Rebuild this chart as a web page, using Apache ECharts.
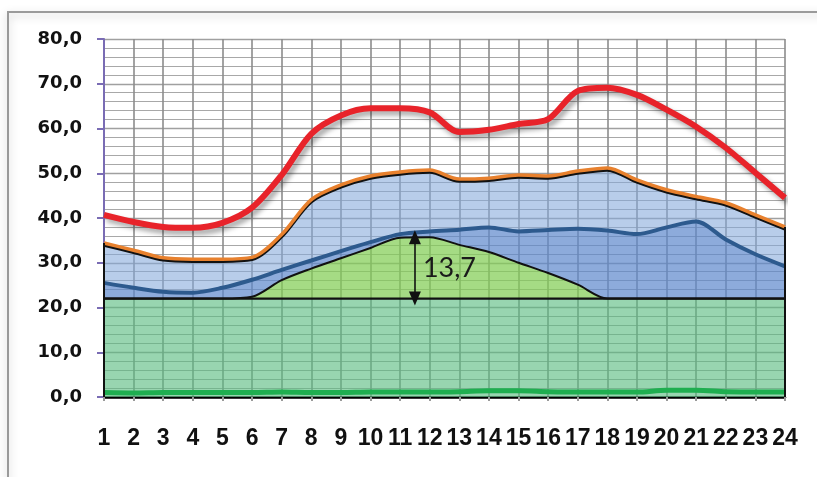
<!DOCTYPE html>
<html>
<head>
<meta charset="utf-8">
<script src="https://cdn.jsdelivr.net/npm/echarts@6/dist/echarts.min.js"></script>
<style>
  html, body { margin: 0; padding: 0; background: #ffffff; }
  #chart { width: 817px; height: 477px; }
</style>
</head>
<body>
<div id="chart"></div>
<script>
// Hours of the day
const hours = ['1', '2', '3', '4', '5', '6', '7', '8', '9', '10', '11', '12', '13', '14', '15', '16', '17', '18', '19', '20', '21', '22', '23', '24'];

// Constant base band
const baseLoad = [22, 22, 22, 22, 22, 22, 22, 22, 22, 22, 22, 22, 22, 22, 22, 22, 22, 22, 22, 22, 22, 22, 22, 22];
// Midday hump above the base band (peak 13,7)
const humpExtra = [0, 0, 0, 0, 0, 0.4, 4.1, 6.7, 9.0, 11.3, 13.6, 13.7, 12.0, 10.4, 8.0, 5.7, 3.1, 0, 0, 0, 0, 0, 0, 0];
// Upper edge of the dark-blue band
const darkBlueTop = [25.5, 24.4, 23.5, 23.3, 24.4, 26.2, 28.4, 30.5, 32.6, 34.6, 36.4, 37.0, 37.4, 37.9, 37.0, 37.3, 37.6, 37.2, 36.4, 37.9, 39.2, 35.2, 31.9, 29.2];
// Upper edge of the light-blue band (orange line)
const orangeTop = [34.4, 32.8, 31.1, 30.8, 30.8, 31.2, 36.3, 44.1, 47.4, 49.4, 50.3, 50.7, 48.7, 48.9, 49.6, 49.4, 50.5, 51.2, 48.5, 46.3, 44.8, 43.4, 40.7, 38.0];
// Red curve
const redLine = [40.7, 39.1, 38.0, 37.8, 38.9, 42.3, 49.6, 58.8, 62.9, 64.5, 64.5, 63.6, 59.2, 59.7, 61.0, 62.1, 68.4, 69.1, 67.5, 64.2, 60.4, 55.7, 50.1, 44.5];
// Green curve near zero
const greenLine = [1.0, 0.9, 1.0, 1.0, 1.0, 1.0, 1.1, 1.0, 1.0, 1.1, 1.1, 1.1, 1.2, 1.4, 1.4, 1.2, 1.1, 1.1, 1.1, 1.5, 1.5, 1.2, 1.1, 1.1];

// Annotation: hump height, drawn between hours 11 and 12
const humpHour = 11.5;
const humpHeight = 13.7;
const humpLabel = '13,7';

// y tick labels use a decimal comma
const fmt = v => v.toFixed(1).replace('.', ',');
const r2 = v => Math.round(v * 100) / 100;

// Band thicknesses for stacking
const midBand = darkBlueTop.map((v, i) => r2(v - baseLoad[i] - humpExtra[i]));
const lightBand = orangeTop.map((v, i) => r2(v - darkBlueTop[i]));

const SMOOTH = 0.3;
const firstHour = Number(hours[0]);
const lastHour = Number(hours[hours.length - 1]);

const chart = echarts.init(document.getElementById('chart'), null, { renderer: 'canvas' });

chart.setOption({
  backgroundColor: '#ffffff',
  animation: false,
  graphic: [{
    type: 'rect',
    z: -10,
    shape: { x: 8, y: 12, width: 840, height: 520 },
    style: {
      fill: 'none', stroke: '#9a9a9a', lineWidth: 2,
      shadowBlur: 8, shadowColor: 'rgba(0,0,0,0.25)', shadowOffsetY: 3
    }
  }],
  grid: { left: 104, right: 32, top: 39, bottom: 80 },
  xAxis: [{
    type: 'category',
    data: hours,
    boundaryGap: false,
    axisLine: { show: true, onZero: false, lineStyle: { color: '#000', width: 2.5 } },
    axisTick: { show: true, length: 4, alignWithLabel: true, interval: 0, lineStyle: { color: '#9a9a9a', width: 2 } },
    axisLabel: {
      interval: 0, color: '#111', fontFamily: '"Liberation Sans", Arial, sans-serif',
      fontWeight: 'bold', fontSize: 23, margin: 30
    },
    splitLine: { show: true, interval: 0, lineStyle: { color: '#8c8c8c', width: 1.6 } }
  }, {
    // numeric twin of the hour axis, used for the annotation between two hours
    type: 'value', min: firstHour, max: lastHour, interval: 1, show: false
  }],
  yAxis: {
    type: 'value',
    min: 0, max: 80, interval: 10,
    axisLine: { show: true, lineStyle: { color: '#7a6cb4', width: 2 } },
    axisTick: { show: true, length: 7, lineStyle: { color: '#7a6cb4', width: 2 } },
    axisLabel: {
      formatter: fmt, color: '#111',
      fontFamily: '"DejaVu Sans", sans-serif', fontWeight: 'bold', fontSize: 18, margin: 22
    },
    minorTick: { show: false, splitNumber: 5 },
    splitLine: { show: true, lineStyle: { color: '#a0a0a0', width: 1.3 } },
    minorSplitLine: { show: true, lineStyle: { color: '#a8a8a8', width: 1.2 } }
  },
  series: [
    {
      name: 'base', type: 'line', stack: 'load', smooth: SMOOTH, symbol: 'none',
      data: baseLoad,
      lineStyle: { color: '#111', width: 2.2 },
      areaStyle: { color: 'rgba(88,188,128,0.62)', opacity: 1 },
      markLine: {
        silent: true, symbol: 'none', label: { show: false },
        lineStyle: { color: '#111', width: 2, type: 'solid' },
        data: [
          [{ coord: [hours[0], 0] }, { coord: [hours[0], orangeTop[0]] }],
          [{ coord: [hours[23], 0] }, { coord: [hours[23], orangeTop[23]] }]
        ]
      }
    },
    {
      name: 'hump', type: 'line', stack: 'load', smooth: SMOOTH, symbol: 'none',
      data: humpExtra,
      lineStyle: { color: '#111', width: 2 },
      areaStyle: { color: 'rgba(130,205,84,0.72)', opacity: 1 }
    },
    {
      name: 'darkBlue', type: 'line', stack: 'load', smooth: SMOOTH, symbol: 'none',
      data: midBand,
      lineStyle: { color: '#2d5a8e', width: 4 },
      areaStyle: { color: 'rgba(92,136,204,0.70)', opacity: 1 }
    },
    {
      name: 'lightBlue', type: 'line', stack: 'load', smooth: SMOOTH, symbol: 'none',
      data: lightBand,
      lineStyle: {
        color: '#e8812e', width: 3.5,
        shadowColor: '#111', shadowBlur: 0, shadowOffsetY: 2
      },
      areaStyle: { color: 'rgba(132,168,218,0.58)', opacity: 1 }
    },
    {
      name: 'green', type: 'line', smooth: SMOOTH, symbol: 'none',
      data: greenLine,
      lineStyle: { color: '#1fae50', width: 5 }
    },
    {
      name: 'red', type: 'line', smooth: SMOOTH, symbol: 'none',
      data: redLine,
      lineStyle: {
        color: '#e8232a', width: 6,
        shadowColor: 'rgba(0,0,0,0.35)', shadowBlur: 5, shadowOffsetX: 3, shadowOffsetY: 4
      }
    },
    {
      name: 'annotation', type: 'line', xAxisIndex: 1, symbol: 'none', data: [],
      markLine: {
        silent: true,
        symbol: ['triangle', 'triangle'], symbolSize: [12, 14],
        label: { show: false },
        lineStyle: { color: '#111', width: 1.6, type: 'solid' },
        data: [[{ coord: [humpHour, baseLoad[0]] }, { coord: [humpHour, baseLoad[0] + humpHeight] }]]
      },
      markPoint: {
        silent: true, symbol: 'circle', symbolSize: 0,
        data: [{ coord: [humpHour, baseLoad[0] + humpHeight / 2] }],
        label: {
          show: true, position: 'right', distance: 8, formatter: humpLabel,
          color: '#1a1a1a', fontFamily: 'Lato, "Liberation Sans", sans-serif', fontSize: 27
        }
      }
    }
  ]
});
</script>
</body>
</html>
